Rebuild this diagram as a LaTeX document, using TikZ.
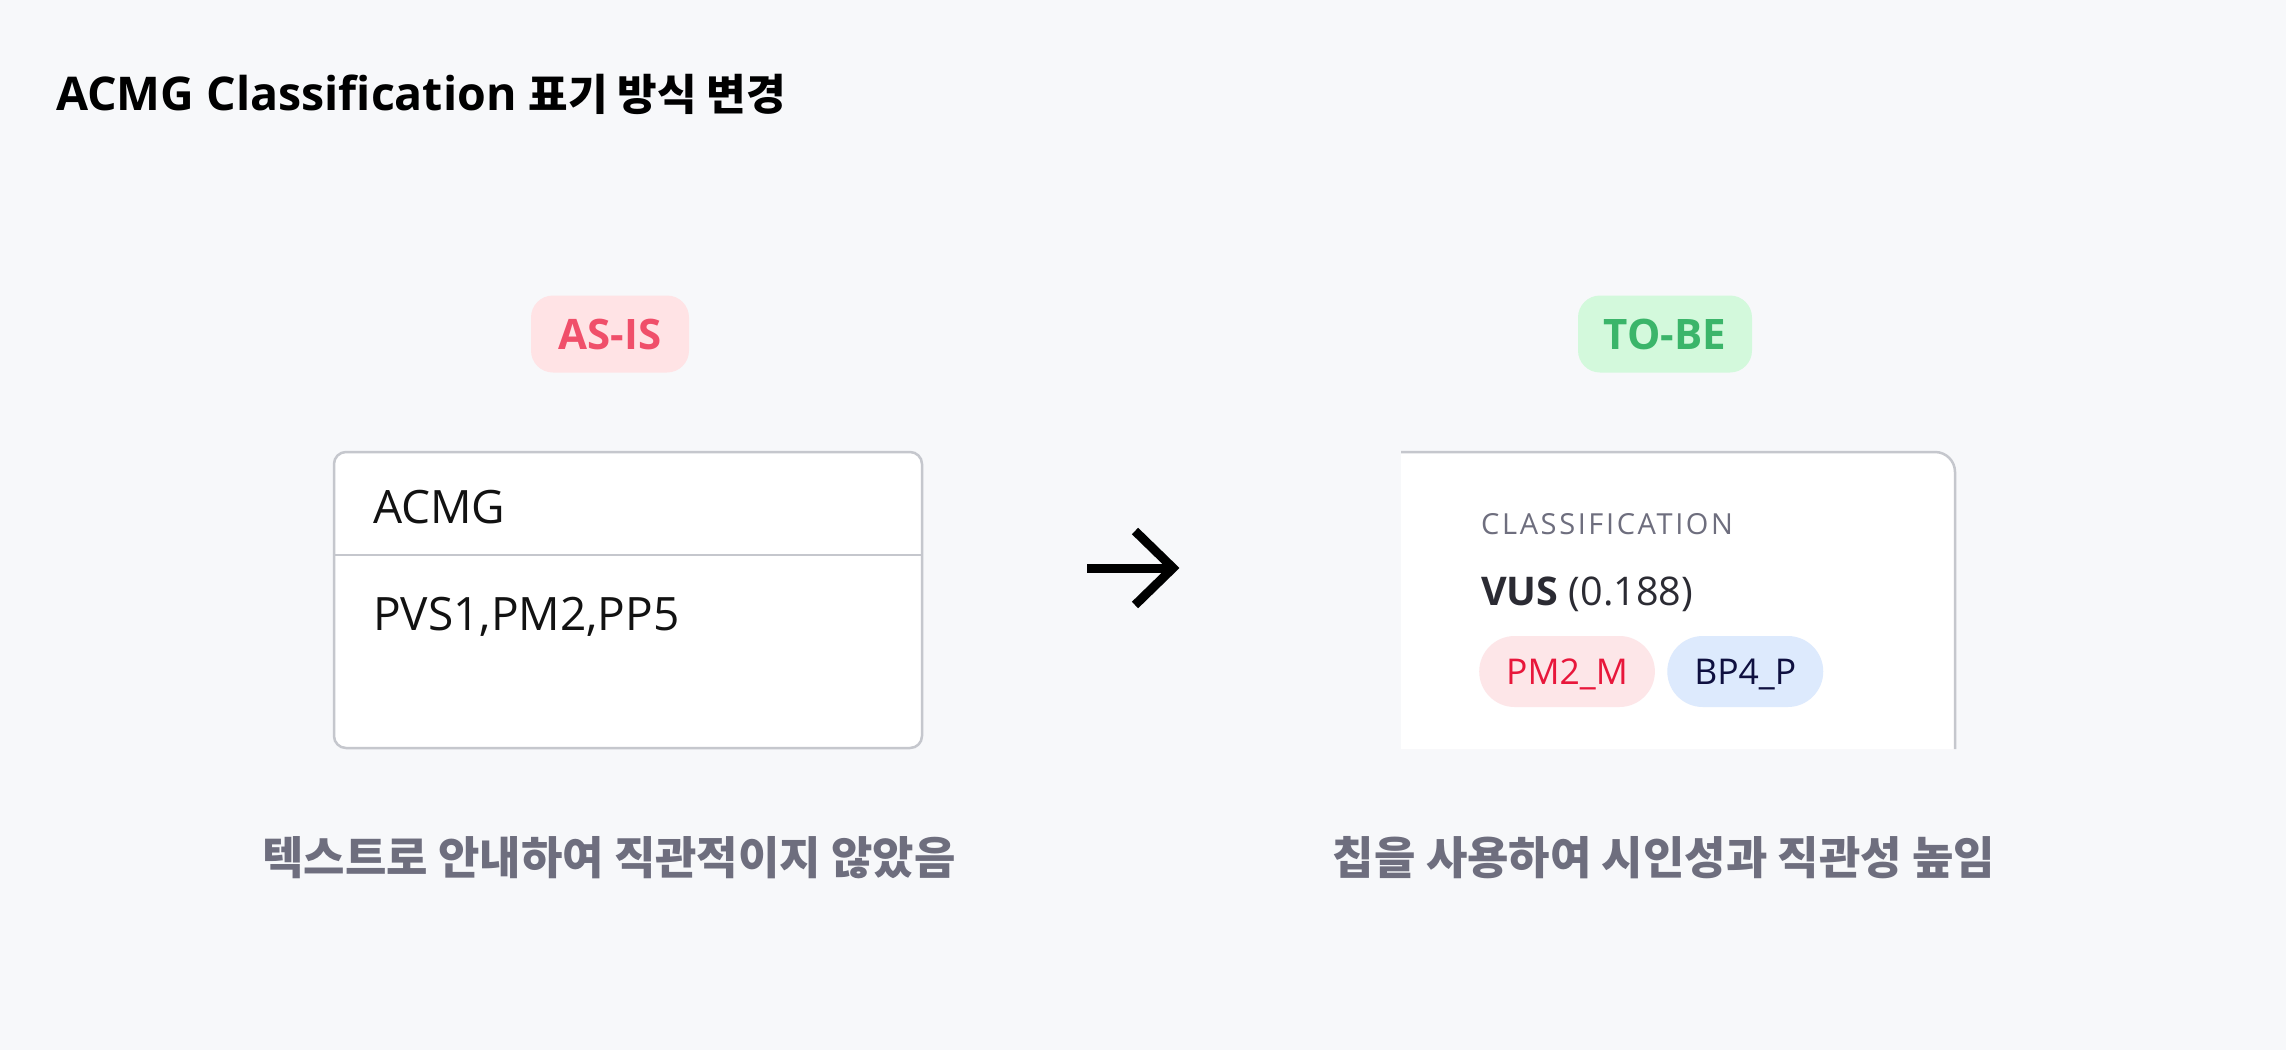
\documentclass[tikz,border=0pt]{standalone}
\usepackage{fontspec}
\setmainfont{Open Sans}
\newfontfamily\kr{Noto Sans CJK KR}
\newfontfamily\capsfont{Open Sans}[LetterSpace=9]
\usepackage{xcolor}
\definecolor{BGcolor}{HTML}{F7F8FA}
\definecolor{BORDERcolor}{HTML}{C5C7CD}
\definecolor{asisfill}{HTML}{FFE3E5}
\definecolor{asistext}{HTML}{F04F6A}
\definecolor{tobefill}{HTML}{D3F9DC}
\definecolor{tobetext}{HTML}{3BB56A}
\definecolor{PMfill}{HTML}{FDE6E8}
\definecolor{PMtext}{HTML}{E8173B}
\definecolor{BPfill}{HTML}{DDEAFD}
\definecolor{BPtext}{HTML}{0F1040}
\definecolor{GREYtext}{HTML}{6E6E7E}
\definecolor{DARKtext}{HTML}{2B2B33}
\usepackage{tikz}
\usetikzlibrary{positioning, calc}

\begin{document}
\begin{tikzpicture}[x=1pt, y=-1pt]

    \tikzset{%
        plain/.style={inner sep=0pt, anchor=base west},
        badge/.style={rounded corners=22pt, minimum width=#1, minimum height=77pt,
                inner sep=0pt, text height=30.7pt, text depth=0pt,
                font=\fontsize{42pt}{42pt}\selectfont\bfseries},
        chip/.style={rounded corners=35.5pt, minimum height=71pt, inner xsep=27pt,
                inner ysep=0pt, text height=25.7pt, text depth=0pt, anchor=west,
                font=\fontsize{35.5pt}{35.5pt}\selectfont},
        fieldtext/.style={plain, text=black!93, font=\fontsize{46pt}{46pt}\selectfont},
        caption/.style={inner sep=0pt, anchor=base, text=GREYtext,
                font=\fontsize{45pt}{45pt}\selectfont\kr\bfseries},
        panelborder/.style={draw=BORDERcolor, line width=2.5pt},
        arrowstroke/.style={line width=9pt, line join=miter, black}
    }

    % page
    \fill [BGcolor] (0, 0) rectangle (2286, 1050);

    \node [plain, font=\fontsize{46.5pt}{46.5pt}\selectfont\bfseries] (title) at (56, 110)
        {ACMG Classification {\kr\fontsize{43pt}{43pt}\selectfont 표기 방식 변경}};

    \foreach \name/\txt/\x/\w in {asis/AS-IS/610/158pt, tobe/TO-BE/1665/174pt} {%
            \node [badge=\w, fill=\name fill, text=\name text] (\name) at (\x, 334) {\txt};
        }

    % as-is panel
    \node [panelborder, fill=white, rounded corners=12pt, minimum width=588pt,
        minimum height=296pt, inner sep=0pt] (asisbox) at (628, 600) {};
    \draw [panelborder] ($(asisbox.north west)+(0, 104)$) -- ($(asisbox.north east)+(0, 104)$);
    \node [fieldtext] (acmg) at (373, 523) {ACMG};
    \node [fieldtext] (criteria) at (373, 630) {PVS1,PM2,PP5};

    % arrow
    \coordinate (arrowtail) at (1087, 568);
    \coordinate (arrowtip) at (1173, 568);
    \draw [arrowstroke] (arrowtail) -- (arrowtip);
    \draw [arrowstroke] ($(arrowtip)+(-38, -37)$) -- (arrowtip) -- ($(arrowtip)+(-38, 37)$);

    % to-be panel
    \fill [white] (1401, 749) -- (1401, 452) -- (1935, 452)
        arc [start angle=270, end angle=360, radius=20] -- (1955, 749) -- cycle;
    \draw [panelborder] (1401, 452) -- (1935, 452)
        arc [start angle=270, end angle=360, radius=20] -- (1955, 749);
    \node [plain, text=GREYtext, font=\fontsize{29pt}{29pt}\selectfont\capsfont] (classlabel)
        at (1481, 534) {CLASSIFICATION};
    \node [plain, text=DARKtext, font=\fontsize{39.5pt}{39.5pt}\selectfont] (vus)
        at (1481, 605) {\textbf{VUS} (0.188)};
    \node [chip, fill=PMfill, text=PMtext] (pmchip) at (1479, 671.5) {PM2\_M};
    \node [chip, fill=BPfill, text=BPtext, right=12pt of pmchip] (bpchip) {BP4\_P};

    \node [caption] (asiscaption) at (609, 874) {텍스트로 안내하여 직관적이지 않았음};
    \node [caption] (tobecaption) at (1664, 874) {칩을 사용하여 시인성과 직관성 높임};

\end{tikzpicture}
\end{document}
